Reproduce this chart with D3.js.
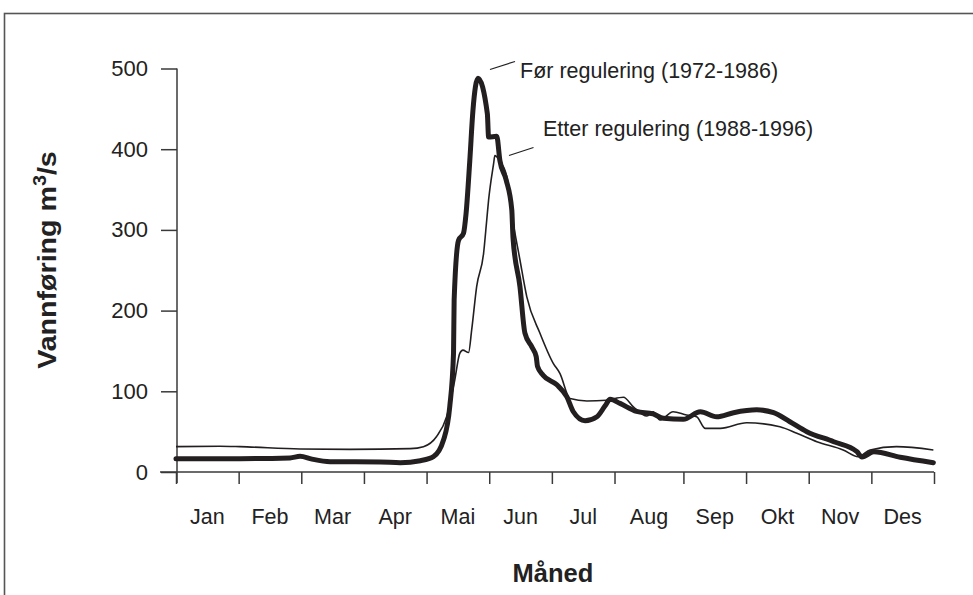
<!DOCTYPE html>
<html><head><meta charset="utf-8">
<script src="https://cdn.jsdelivr.net/npm/d3@7"></script>
<style>
html,body{margin:0;padding:0;background:#fff;}
svg{display:block;font-family:"Liberation Sans",Arial,sans-serif;}
</style></head>
<body>
<svg id="c" width="973" height="595"></svg>
<script>
// ---- data ----
const months = ["Jan","Feb","Mar","Apr","Mai","Jun","Jul","Aug","Sep","Okt","Nov","Des"];
const yTicks = [0,100,200,300,400,500];
// x in month units (0 = 1 Jan, 12 = 31 Des), y in m3/s
const forMonth = [0,1.02,1.82,1.98,2.17,2.46,3.26,3.58,3.90,4.11,4.27,4.37,4.43,4.44,4.51,4.59,4.63,4.69,4.74,4.82,4.97,4.99,5.12,5.17,5.27,5.36,5.38,5.49,5.57,5.68,5.75,5.77,5.86,6.08,6.24,6.34,6.53,6.72,6.85,6.93,7.08,7.32,7.56,7.71,8.0,8.27,8.53,8.80,9.17,9.44,9.70,9.97,10.40,10.77,10.85,11.04,11.46,11.99];
const forValue = [16.5,16.5,17.5,19.5,16,12.8,12.5,11.5,14,19,39.6,81,147,213,287,296,320,386,448,488,444,415,416,386,362,325,290,230,172,155,143,131,120,108,93,75,63.5,68.5,82,90,85,75,72,66.5,65.3,74.7,68.5,73.5,77,73.5,62.3,50,37.5,25.2,18.5,25,18.2,11.5];
const etterMonth = [0,0.70,1.02,1.98,2.78,3.74,3.95,4.16,4.32,4.45,4.53,4.58,4.67,4.72,4.80,4.91,4.96,4.99,5.07,5.09,5.17,5.28,5.36,5.49,5.60,5.81,6.02,6.13,6.29,6.56,6.87,7.13,7.27,7.47,7.56,7.66,7.85,8.05,8.21,8.35,8.59,9.01,9.54,9.81,10.13,10.55,10.79,10.98,11.40,11.99];
const etterValue = [31.5,32,31.5,28.5,28,29,31.4,44,68.5,114,147,151,148,176,230,271,312,337,382,392,385,366,320,263,217,172,135,122,91,88,89,92.6,81,69.4,74.7,64.4,74.7,70.6,68.5,54,54,61,56,48,37.5,27.3,19,27.3,31.4,27.3];
const labelFor = "Før regulering (1972-1986)";
const labelEtter = "Etter regulering (1988-1996)";

// ---- layout ----
const svg = d3.select("#c");
const ink = "#231f20", axisCol = "#3a3a3a";
const x0 = 176, x1 = 934, yBase = 472, yTop = 68.5;
// month widths on the original axis (August drawn slightly wider)
const widths = months.map((m,i)=> i===7 ? 1.1 : 1);
const cum = [0]; widths.forEach(w=>cum.push(cum[cum.length-1]+w));
const total = cum[cum.length-1];
const x = d3.scaleLinear().domain(d3.range(13)).range(cum.map(c=>x0+(x1-x0)*c/total));
const y = d3.scaleLinear().domain([0,500]).range([yBase,yTop]);

// frame
svg.append("rect").attr("x",4.5).attr("y",13.5).attr("width",1000).attr("height",700)
  .attr("fill","none").attr("stroke","#555").attr("stroke-width",1.6);

// y axis
const ga = svg.append("g").attr("transform",`translate(${x0+1},0)`)
  .call(d3.axisLeft(y).tickValues(yTicks).tickSize(16).tickPadding(13).tickFormat(d3.format("d")));
ga.select(".domain").remove();
ga.selectAll("line").attr("stroke",axisCol).attr("stroke-width",1.5);
ga.selectAll("text").attr("font-size",22).attr("fill","#222").attr("font-family","Liberation Sans, Arial, sans-serif");
svg.append("line").attr("x1",x0+1).attr("x2",x0+1).attr("y1",y(500)).attr("y2",yBase+11)
  .attr("stroke",axisCol).attr("stroke-width",1.5);

// x axis
const gx = svg.append("g").attr("transform",`translate(0,${yBase})`)
  .call(d3.axisBottom(x).tickValues(d3.range(13)).tickSize(12).tickFormat(""));
gx.select(".domain").remove();
gx.selectAll("line").attr("stroke",axisCol).attr("stroke-width",1.5);
svg.append("line").attr("x1",160).attr("x2",x1).attr("y1",yBase).attr("y2",yBase)
  .attr("stroke",axisCol).attr("stroke-width",1.5);
svg.append("g").selectAll("text").data(months).join("text")
  .attr("x",(d,i)=>(x(i)+x(i+1))/2).attr("y",524).attr("text-anchor","middle")
  .attr("font-size",21.5).attr("fill","#222").text(d=>d);

// titles
svg.append("text").attr("x",553).attr("y",582).attr("text-anchor","middle")
  .attr("font-size",25.5).attr("font-weight","bold").attr("fill","#222").text("Måned");
const yt = svg.append("text").attr("transform","translate(56,260) rotate(-90) scale(1.1,1)")
  .attr("text-anchor","middle").attr("font-size",26).attr("font-weight","bold").attr("fill","#222");
yt.append("tspan").text("Vannføring m");
yt.append("tspan").attr("font-size",18).attr("dy",-10).text("3");
yt.append("tspan").attr("dy",10).text("/s");

// lines
const line = d3.line().x(d=>x(d[0])).y(d=>y(d[1])).curve(d3.curveMonotoneX);
svg.append("path").datum(etterMonth.map((m,i)=>[m,etterValue[i]]))
  .attr("d",line).attr("fill","none").attr("stroke",ink).attr("stroke-width",1.6);
svg.append("path").datum(forMonth.map((m,i)=>[m,forValue[i]]))
  .attr("d",line).attr("fill","none").attr("stroke",ink).attr("stroke-width",5)
  .attr("stroke-linejoin","round").attr("stroke-linecap","round");

// annotations
svg.append("line").attr("x1",490).attr("y1",69.5).attr("x2",515).attr("y2",61.5).attr("stroke",ink).attr("stroke-width",1.2);
svg.append("text").attr("x",520).attr("y",78).attr("font-size",21.5).attr("fill","#222").text(labelFor);
svg.append("line").attr("x1",509).attr("y1",155.5).attr("x2",533.5).attr("y2",147.5).attr("stroke",ink).attr("stroke-width",1.2);
svg.append("text").attr("x",543).attr("y",136).attr("font-size",21.5).attr("fill","#222").text(labelEtter);
</script>
</body></html>
